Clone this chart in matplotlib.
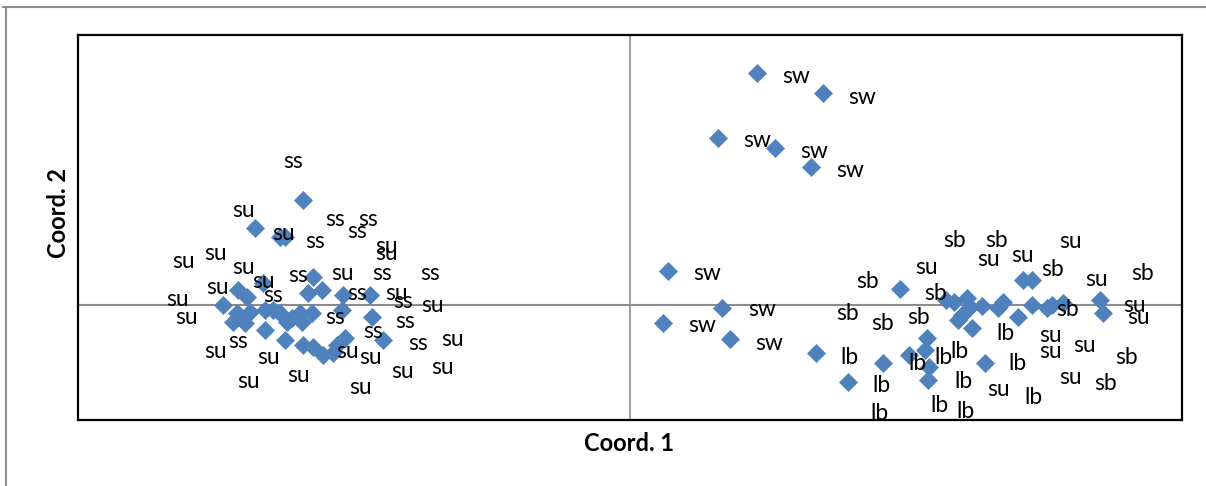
import matplotlib
matplotlib.use("Agg")
import matplotlib.pyplot as plt
from matplotlib.lines import Line2D

# marker positions (Coord. 1, Coord. 2)
pts_x = [
    -0.327, -0.375, -0.350, -0.345, -0.317, -0.308, -0.322, -0.367, -0.392, -0.383,
    -0.407, -0.393, -0.380, -0.397, -0.385, -0.365, -0.357, -0.350, -0.365, -0.343,
    -0.338, -0.330, -0.318, -0.328, -0.345, -0.327, -0.317, -0.307, -0.297, -0.293,
    -0.285, -0.288, -0.287, -0.260, -0.258, -0.247,
    0.127, 0.193, 0.088, 0.145, 0.181, 0.038, 0.092, 0.033, 0.100,
    0.186, 0.218, 0.253, 0.279, 0.297, 0.295, 0.299, 0.298, 0.270, 0.316,
    0.324, 0.337, 0.340, 0.352, 0.328, 0.342, 0.355, 0.373, 0.368, 0.388,
    0.393, 0.402, 0.402, 0.417, 0.422, 0.433, 0.470, 0.473, 0.332,
]
pts_y = [
    0.105, 0.077, 0.068, 0.068, 0.028, 0.015, 0.012, 0.022, 0.015, 0.008,
    0.000, -0.008, -0.007, -0.017, -0.018, -0.005, -0.005, -0.008, -0.025, -0.017,
    -0.013, -0.008, -0.008, -0.017, -0.035, -0.040, -0.042, -0.050, -0.048, -0.040,
    -0.033, -0.005, 0.010, 0.010, -0.012, -0.035,
    0.232, 0.212, 0.167, 0.157, 0.138, 0.034, -0.003, -0.018, -0.034,
    -0.048, -0.077, -0.058, -0.050, -0.033, -0.045, -0.062, -0.075, 0.016, 0.005,
    0.003, 0.007, -0.002, -0.001, -0.015, -0.023, -0.058, 0.003, -0.003, -0.012,
    0.025, 0.025, 0.000, -0.003, 0.000, 0.002, 0.005, -0.008, -0.010,
]

# data labels (positions as they sit in the chart)
lab_text = [
    "ss", "su", "su", "ss", "ss", "ss", "ss", "su", "su", "su",
    "su", "su", "ss", "su", "ss", "ss", "su", "su", "ss", "ss",
    "su", "ss", "su", "su", "su", "ss", "ss", "ss", "ss", "ss",
    "su", "su", "su", "su", "su", "su", "su", "su", "su", "su",
    "sw", "sw", "sw", "sw", "sw", "sw", "sw", "sw", "sw",
    "sb", "sb", "su", "su", "su", "su", "sb", "sb", "su", "sb",
    "sb", "sb", "sb", "sb", "sb", "su", "su", "lb", "su", "su",
    "su", "sb", "lb", "lb", "lb", "lb", "lb", "lb", "lb", "su",
    "su", "sb", "lb", "lb", "lb", "lb",
]
lab_x = [
    -0.337, -0.387, -0.347, -0.295, -0.262, -0.273, -0.315, -0.243, -0.243, -0.415,
    -0.447, -0.387, -0.332, -0.288, -0.248, -0.200, -0.367, -0.413, -0.357, -0.273,
    -0.233, -0.227, -0.453, -0.197, -0.444, -0.295, -0.225, -0.257, -0.392, -0.212,
    -0.178, -0.415, -0.362, -0.283, -0.260, -0.228, -0.187, -0.382, -0.332, -0.269,
    0.166, 0.232, 0.127, 0.184, 0.220, 0.077, 0.132, 0.072, 0.139,
    0.325, 0.367, 0.440, 0.358, 0.392, 0.297, 0.423, 0.238, 0.467, 0.513,
    0.306, 0.218, 0.253, 0.289, 0.438, 0.505, 0.508, 0.375, 0.420, 0.420,
    0.454, 0.497, 0.220, 0.288, 0.313, 0.329, 0.388, 0.252, 0.333, 0.368,
    0.440, 0.476, 0.404, 0.250, 0.310, 0.336,
]
lab_y = [
    0.144, 0.095, 0.072, 0.086, 0.086, 0.074, 0.064, 0.059, 0.051, 0.052,
    0.044, 0.038, 0.029, 0.032, 0.031, 0.031, 0.023, 0.018, 0.010, 0.011,
    0.011, 0.004, 0.005, -0.001, -0.013, -0.013, -0.016, -0.027, -0.037, -0.039,
    -0.035, -0.047, -0.052, -0.047, -0.052, -0.067, -0.062, -0.077, -0.071, -0.082,
    0.229, 0.208, 0.165, 0.154, 0.135, 0.031, -0.005, -0.021, -0.038,
    0.065, 0.065, 0.064, 0.046, 0.050, 0.038, 0.036, 0.023, 0.026, 0.032,
    0.012, -0.008, -0.019, -0.012, -0.004, 0.000, -0.012, -0.028, -0.030, -0.047,
    -0.041, -0.052, -0.052, -0.058, -0.052, -0.047, -0.059, -0.080, -0.077, -0.085,
    -0.073, -0.079, -0.093, -0.108, -0.100, -0.107,
]

plt.rcParams["font.family"] = ["Lato", "DejaVu Sans"]

fig = plt.figure(figsize=(12.06, 4.86), dpi=100)
ax = fig.add_axes([78 / 1206, 1 - 420 / 486, 1104 / 1206, 385 / 486])

ax.axhline(0, color="#8c8c8c", lw=1.5, zorder=1)
ax.axvline(0, color="#8c8c8c", lw=1.2, zorder=1)

ax.plot(pts_x, pts_y, ls="none", marker="D", ms=9.5, color="#4f81bd",
        markeredgecolor="#4f81bd", markeredgewidth=0.5, zorder=3)

for t, x, y in zip(lab_text, lab_x, lab_y):
    ax.text(x, y, t, ha="center", va="center", fontsize=16.5, color="black",
            zorder=4, clip_on=False)

ax.set_xlim(-0.552, 0.552)
ax.set_ylim(-0.115, 0.270)
ax.set_xticks([])
ax.set_yticks([])
for s in ax.spines.values():
    s.set_color("black")
    s.set_linewidth(1.6)

fig.text(629 / 1206, 1 - 443 / 486, "Coord. 1", ha="center", va="center",
         fontsize=17, fontweight="bold")
fig.text(59 / 1206, 1 - 213 / 486, "Coord. 2", ha="center", va="center",
         fontsize=17, fontweight="bold", rotation=90)

# outer chart-area border (top and left edges visible)
fig.add_artist(Line2D([3 / 1206, 1], [1 - 7 / 486, 1 - 7 / 486],
                      transform=fig.transFigure, color="#8c8c8c", lw=1.5))
fig.add_artist(Line2D([6 / 1206, 6 / 1206], [0, 1 - 7 / 486],
                      transform=fig.transFigure, color="#8c8c8c", lw=1.5))

fig.savefig("out.png", dpi=100)
